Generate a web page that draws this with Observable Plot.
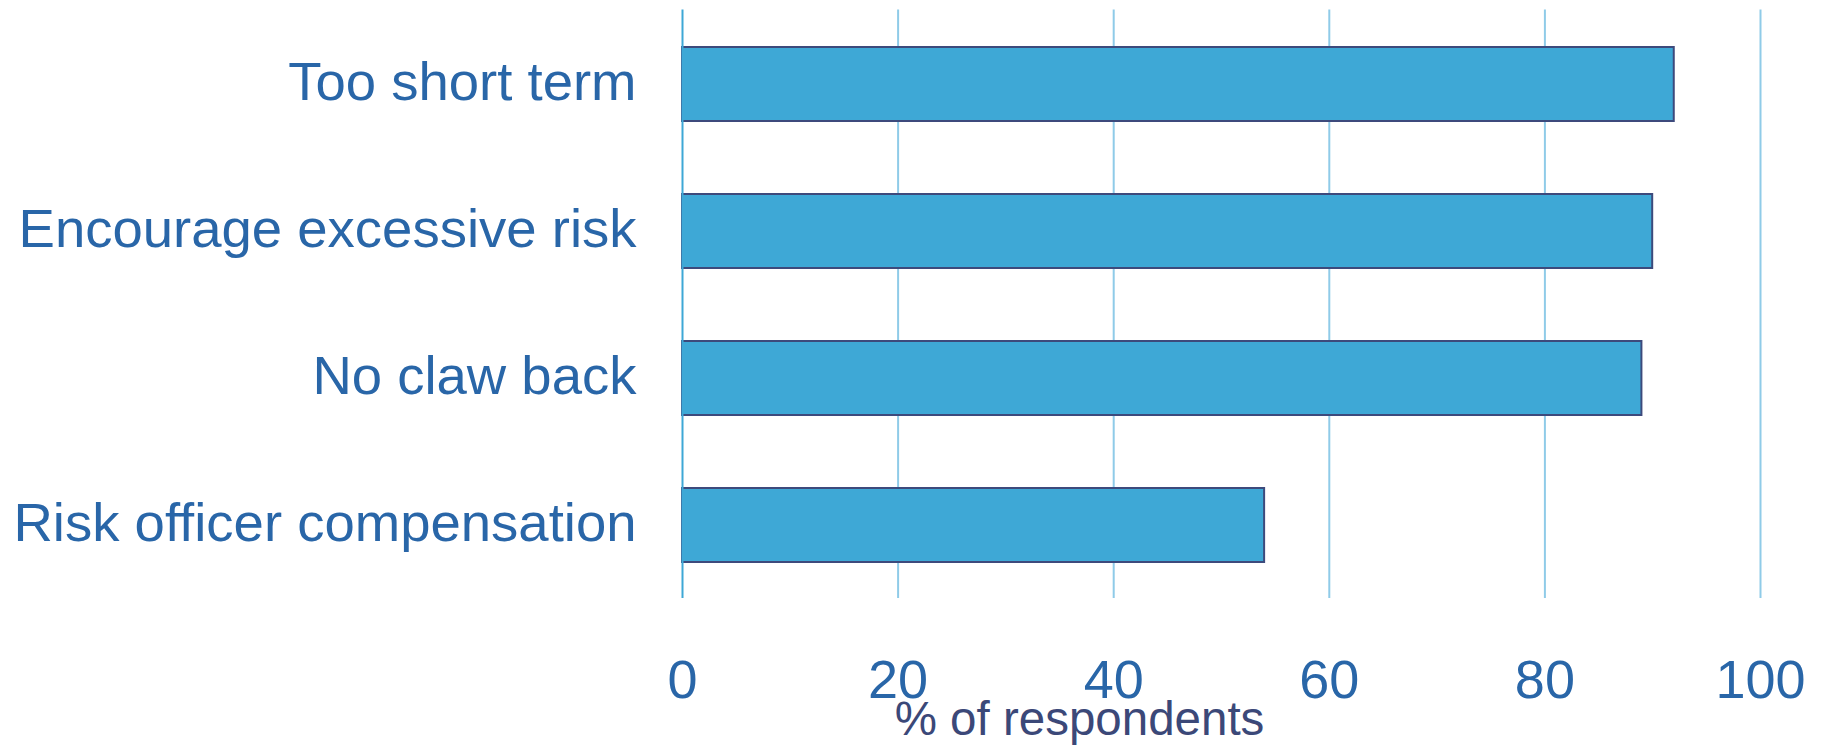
<!DOCTYPE html>
<html>
<head>
<meta charset="utf-8">
<script src="https://cdn.jsdelivr.net/npm/d3@7"></script>
<script src="https://cdn.jsdelivr.net/npm/@observablehq/plot@0.6"></script>
<style>
  html, body { margin: 0; padding: 0; background: #ffffff; }
  #chart svg { display: block; }
</style>
</head>
<body>
<div id="chart"></div>
<script>
// Data
const categories = ["Too short term", "Encourage excessive risk", "No claw back", "Risk officer compensation"];
const values = [92, 90, 89, 54];
const xTicks = [0, 20, 40, 60, 80, 100];
const axisTitle = ["% of respondents"];

const data = categories.map((c, i) => ({category: c, value: values[i]}));

const labelColor = "#2966a8";
const titleColor = "#3b4878";
const barFill = "#3ea8d6";
const barStroke = "#3d4a7c";
const gridColor = "#8fcbe8";

const chart = Plot.plot({
  width: 1821,
  height: 746,
  marginLeft: 682,
  marginRight: 61,
  marginTop: 9.5,
  marginBottom: 148,
  style: {fontFamily: "'Liberation Sans', Arial, sans-serif", fontSize: "54px", background: "#ffffff"},
  x: {domain: [0, 100], ticks: xTicks},
  y: {domain: categories, paddingInner: 0.5, paddingOuter: 0.25},
  marks: [
    Plot.ruleX(xTicks.slice(1), {stroke: gridColor, strokeWidth: 2}),
    Plot.barX(data, {x: "value", y: "category", fill: barFill, stroke: barStroke, strokeWidth: 2}),
    Plot.ruleX([0], {stroke: "#3ea8d6", strokeWidth: 2}),
    Plot.axisX({ticks: xTicks, tickSize: 0, tickPadding: 61, fill: labelColor, label: null, fontSize: 54}),
    Plot.axisY({tickSize: 0, tickPadding: 46, fill: labelColor, label: null, fontSize: 54.5, dy: -2}),
    Plot.text(axisTitle, {frameAnchor: "bottom", dx: -142, dy: 136, fill: titleColor, fontSize: 47.5})
  ]
});
document.getElementById("chart").appendChild(chart);
</script>
</body>
</html>
